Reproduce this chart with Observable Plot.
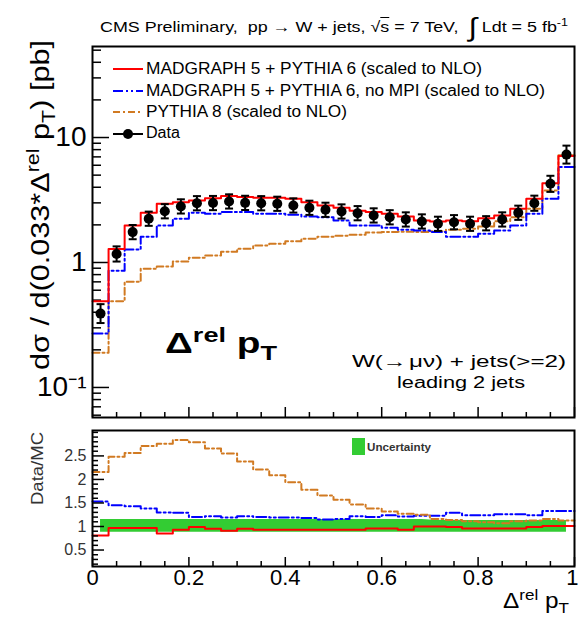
<!DOCTYPE html>
<html>
<head>
<meta charset="utf-8">
<script src="https://cdn.jsdelivr.net/npm/d3@7"></script>
<script src="https://cdn.jsdelivr.net/npm/@observablehq/plot@0.6"></script>
<style>
  body { margin: 0; background: #fff; }
  #wrap { position: relative; width: 578px; height: 621px; overflow: hidden;
          font-family: "Liberation Sans", Arial, Helvetica, sans-serif; color: #000; }
  #wrap > svg { position: absolute; left: 0; }
  .t { position: absolute; white-space: nowrap; transform-origin: 0 50%; }
  .t sup, .t sub { font-size: 70%; line-height: 0; }
</style>
</head>
<body>
<div id="wrap"></div>
<script>
// Binning: 30 bins of width 0.0333 in Δrel pT
const binCount = 30;
const binEdges = d3.range(binCount + 1).map(i => i / binCount);

// Measured cross section per bin [pb]
const dataXsec = [0.39, 1.17, 1.75, 2.24, 2.57, 2.81, 2.98, 2.99, 3.08, 3.00,
                  2.98, 2.95, 2.86, 2.74, 2.64, 2.56, 2.48, 2.38, 2.30, 2.21,
                  2.13, 2.04, 2.10, 2.04, 2.06, 2.21, 2.50, 2.98, 4.26, 7.30];
// Relative size of the data error bars
const dataErr = [0.19, 0.15, 0.14, 0.14, 0.14, 0.14, 0.14, 0.14, 0.14, 0.14,
                 0.14, 0.14, 0.14, 0.14, 0.14, 0.14, 0.14, 0.14, 0.14, 0.14,
                 0.14, 0.14, 0.14, 0.14, 0.14, 0.14, 0.14, 0.15, 0.16, 0.18];
// MADGRAPH 5 + PYTHIA 6 (scaled to NLO)
const mgPythia6 = [0.49, 1.28, 1.98, 2.50, 2.95, 3.04, 3.13, 3.27, 3.40, 3.35,
                   3.30, 3.30, 3.23, 3.04, 2.86, 2.74, 2.60, 2.53, 2.45, 2.33,
                   2.17, 2.13, 2.17, 2.14, 2.26, 2.38, 2.69, 3.23, 4.31, 7.10];
// MADGRAPH 5 + PYTHIA 6, no MPI (scaled to NLO)
const mgNoMpi = [0.27, 0.86, 1.27, 1.61, 1.98, 2.24, 2.50, 2.45, 2.53, 2.53,
                 2.45, 2.45, 2.41, 2.33, 2.30, 2.17, 1.98, 1.98, 1.90, 1.83,
                 1.80, 1.75, 1.61, 1.61, 1.70, 1.80, 1.98, 2.45, 3.23, 5.80];
// PYTHIA 8 (scaled to NLO)
const pythia8 = [0.19, 0.49, 0.70, 0.89, 0.93, 1.02, 1.09, 1.14, 1.22, 1.29,
                 1.37, 1.41, 1.48, 1.55, 1.61, 1.64, 1.67, 1.74, 1.75, 1.76,
                 1.75, 1.78, 1.83, 1.86, 1.94, 2.14, 2.30, 2.69, 3.77, 7.20];

// Data/MC ratios
const ratioMgPythia6 = [0.81, 0.97, 0.97, 0.97, 0.85, 0.93, 0.99, 0.95, 0.91, 0.95,
                        0.93, 0.93, 0.93, 0.93, 0.93, 0.93, 0.93, 0.96, 0.96, 0.93,
                        1.00, 1.00, 0.99, 0.96, 0.96, 0.96, 0.96, 0.99, 1.01, 1.01];
const ratioMgNoMpi = [1.53, 1.45, 1.43, 1.38, 1.30, 1.29, 1.20, 1.22, 1.19, 1.22,
                      1.20, 1.19, 1.19, 1.18, 1.15, 1.16, 1.22, 1.20, 1.24, 1.21,
                      1.23, 1.23, 1.29, 1.24, 1.24, 1.26, 1.26, 1.24, 1.33, 1.33];
const ratioPythia8 = [2.16, 2.48, 2.56, 2.71, 2.76, 2.84, 2.79, 2.66, 2.55, 2.38,
                      2.21, 2.09, 1.94, 1.78, 1.66, 1.57, 1.47, 1.38, 1.32, 1.27,
                      1.25, 1.16, 1.14, 1.11, 1.09, 1.07, 1.11, 1.13, 1.16, 1.13];
// Uncertainty band around 1
const bandLow  = [0.88, 0.88, 0.88, 0.88, 0.88, 0.88, 0.88, 0.88, 0.88, 0.88,
                  0.88, 0.88, 0.88, 0.88, 0.88, 0.88, 0.88, 0.88, 0.88, 0.88,
                  0.88, 0.88, 0.88, 0.88, 0.88, 0.88, 0.88, 0.88, 0.88, 0.88];
const bandHigh = [1.15, 1.15, 1.15, 1.15, 1.15, 1.15, 1.15, 1.15, 1.15, 1.15,
                  1.15, 1.15, 1.15, 1.15, 1.15, 1.15, 1.15, 1.15, 1.15, 1.15,
                  1.15, 1.13, 1.13, 1.13, 1.13, 1.13, 1.13, 1.13, 1.13, 1.13];

// Axis ticks
const logMajor = [0.1, 1, 10];
const logMinor = [0.06, 0.07, 0.08, 0.09, 0.2, 0.3, 0.4, 0.5, 0.6, 0.7, 0.8, 0.9,
                  2, 3, 4, 5, 6, 7, 8, 9, 20, 30, 40, 50];
const xMajor = [0, 0.2, 0.4, 0.6, 0.8, 1];
const xMinor = [0.05, 0.1, 0.15, 0.25, 0.3, 0.35, 0.45, 0.5, 0.55, 0.65, 0.7, 0.75, 0.85, 0.9, 0.95];
const ratioMajor = [0.5, 1, 1.5, 2, 2.5];
const ratioMinor = [0.2, 0.3, 0.4, 0.6, 0.7, 0.8, 0.9, 1.1, 1.2, 1.3, 1.4, 1.6, 1.7, 1.8, 1.9,
                    2.1, 2.2, 2.3, 2.4, 2.6, 2.7, 2.8, 2.9, 3.0];

const RED = "#ff0000", BLUE = "#0000ff", ORANGE = "#d17a22", GREEN = "#33cc33";
const DASH_BLUE = "10,3,2,3,2,3";
const DASH_ORANGE = "7,3,2,3";

const W = 578;
const mLeft = 92, mRight = 4;
const plotW = W - mLeft - mRight;

function steps(values) {
  return values.flatMap((v, i) => [{x: binEdges[i], y: v}, {x: binEdges[i + 1], y: v}]);
}
const centers = dataXsec.map((_, i) => (binEdges[i] + binEdges[i + 1]) / 2);
const points = dataXsec.map((v, i) => ({x: centers[i], y: v, lo: v / (1 + dataErr[i]), hi: v * (1 + dataErr[i])}));
const band = bandLow.map((lo, i) => ({x: centers[i], lo, hi: bandHigh[i]}));

// Horizontal cap at the ends of the error bars
const capSymbol = {draw(context) { context.moveTo(-4, 0); context.lineTo(4, 0); }};

const font = "Liberation Sans, Arial, Helvetica, sans-serif";

// ---- Upper panel: cross section, log scale
const topH = 420, topMT = 46, topMB = 3;
const topPlotH = topH - topMT - topMB;
const upper = Plot.plot({
  width: W, height: topH,
  marginLeft: mLeft, marginRight: mRight, marginTop: topMT, marginBottom: topMB,
  style: {fontFamily: font, background: "transparent", overflow: "visible"},
  x: {domain: [0, 1], axis: null},
  y: {type: "log", domain: [0.0575, 53.5], axis: null},
  marks: [
    Plot.tickY(logMajor, {insetRight: plotW - 17, strokeWidth: 1.5}),
    Plot.tickY(logMinor, {insetRight: plotW - 9, strokeWidth: 1.5}),
    Plot.tickX(xMajor, {insetTop: topPlotH - 10, strokeWidth: 1.5}),
    Plot.tickX(xMinor, {insetTop: topPlotH - 5, strokeWidth: 1.5}),
    Plot.axisY({ticks: logMajor, tickSize: 0, tickPadding: 6, fontSize: 28, label: null,
                tickFormat: d => d === 0.1 ? "10⁻¹" : String(d)}),
    Plot.line(steps(pythia8), {x: "x", y: "y", stroke: ORANGE, strokeWidth: 2, strokeDasharray: DASH_ORANGE}),
    Plot.line(steps(mgNoMpi), {x: "x", y: "y", stroke: BLUE, strokeWidth: 2, strokeDasharray: DASH_BLUE}),
    Plot.line(steps(mgPythia6), {x: "x", y: "y", stroke: RED, strokeWidth: 2}),
    Plot.ruleX(points, {x: "x", y1: "lo", y2: "hi", stroke: "black", strokeWidth: 2}),
    Plot.dot(points, {x: "x", y: "lo", symbol: capSymbol, stroke: "black", strokeWidth: 2}),
    Plot.dot(points, {x: "x", y: "hi", symbol: capSymbol, stroke: "black", strokeWidth: 2}),
    Plot.dot(points, {x: "x", y: "y", r: 5, fill: "black"}),
    Plot.frame({stroke: "black", strokeWidth: 2})
  ]
});
upper.style.top = "0px";

// ---- Lower panel: Data/MC
const botH = 201, botMT = 10, botMB = 55;
const botPlotH = botH - botMT - botMB;
const lower = Plot.plot({
  width: W, height: botH,
  marginLeft: mLeft, marginRight: mRight, marginTop: botMT, marginBottom: botMB,
  style: {fontFamily: font, background: "transparent", overflow: "visible"},
  x: {domain: [0, 1], axis: null},
  y: {domain: [0.15, 3.04], axis: null},
  marks: [
    Plot.areaY(band, {x: "x", y1: "lo", y2: "hi", fill: GREEN}),
    Plot.line(steps(ratioMgPythia6), {x: "x", y: "y", stroke: RED, strokeWidth: 2}),
    Plot.line(steps(ratioMgNoMpi), {x: "x", y: "y", stroke: BLUE, strokeWidth: 2, strokeDasharray: DASH_BLUE}),
    Plot.line(steps(ratioPythia8), {x: "x", y: "y", stroke: ORANGE, strokeWidth: 2, strokeDasharray: DASH_ORANGE}),
    Plot.tickY(ratioMajor, {insetRight: plotW - 12, strokeWidth: 1.5}),
    Plot.tickY(ratioMinor, {insetRight: plotW - 6, strokeWidth: 1.5}),
    Plot.tickX(xMajor, {insetTop: botPlotH - 9, strokeWidth: 1.5}),
    Plot.tickX(xMinor, {insetTop: botPlotH - 5, strokeWidth: 1.5}),
    Plot.axisY({ticks: ratioMajor, tickSize: 0, tickPadding: 6, fontSize: 16, fill: "#333", label: null,
                tickFormat: d => String(d)}),
    Plot.axisX({ticks: xMajor.slice(0, -1), tickSize: 0, tickPadding: 3, fontSize: 22, label: null,
                tickFormat: d => String(d)}),
    Plot.axisX({ticks: xMajor.slice(-1), tickSize: 0, tickPadding: 3, fontSize: 22, label: null,
                textAnchor: "end", dx: 4, tickFormat: d => String(d)}),
    Plot.frame({stroke: "black", strokeWidth: 2})
  ]
});
lower.style.top = "420px";

const wrap = document.getElementById("wrap");
wrap.append(upper, lower);

// ---- Text annotations and legends
const lineSample = (color, dash) =>
  `<svg width="30" height="10" style="vertical-align:middle"><line x1="0" y1="5" x2="30" y2="5" stroke="${color}" stroke-width="2"${dash ? ` stroke-dasharray="${dash}"` : ""}/></svg>`;
const dataSample =
  `<svg width="30" height="12" style="vertical-align:middle"><line x1="0" y1="6" x2="30" y2="6" stroke="black" stroke-width="2"/><circle cx="15" cy="6" r="5" fill="black"/></svg>`;

const texts = [
  {x: 100, cy: 26, size: 15, w: 468,
   html: `CMS Preliminary,&nbsp; pp → W + jets, √<span style="text-decoration:overline">s</span> = 7 TeV,&nbsp; <span style="font-size:26px;vertical-align:-4px">∫</span> Ldt = 5 fb<sup>-1</sup>`},
  {x: 146, cy: 69, size: 16, w: 336, html: "MADGRAPH 5 + PYTHIA 6 (scaled to NLO)"},
  {x: 146, cy: 91, size: 16, w: 399, html: "MADGRAPH 5 + PYTHIA 6, no MPI (scaled to NLO)"},
  {x: 146, cy: 112, size: 16, w: 201, html: "PYTHIA 8 (scaled to NLO)"},
  {x: 146, cy: 133, size: 16, w: 34, html: "Data"},
  {x: 113, cy: 69, size: 10, html: lineSample(RED)},
  {x: 113, cy: 91, size: 10, html: lineSample(BLUE, DASH_BLUE)},
  {x: 113, cy: 112, size: 10, html: lineSample(ORANGE, DASH_ORANGE)},
  {x: 113, cy: 133, size: 12, html: dataSample},
  {x: 352, cy: 362, size: 16, w: 214, html: "W(→&#8202;μν) + jets(&gt;=2)"},
  {x: 397, cy: 383, size: 16, w: 128, html: "leading 2 jets"},
  {x: 165, cy: 343, size: 30, w: 112, bold: true, html: "Δ<sup>rel</sup> p<sub>T</sub>"},
  {x: 367, cy: 447, size: 11, w: 64, bold: true, color: "#333", html: "Uncertainty"},
  {x: 503, cy: 601, size: 22, w: 66, html: "Δ<sup>rel</sup> p<sub>T</sub>"}
];
for (const t of texts) {
  const el = document.createElement("div");
  el.className = "t";
  el.style.left = t.x + "px";
  el.style.top = (t.cy - t.size / 2) + "px";
  el.style.fontSize = t.size + "px";
  el.style.lineHeight = t.size + "px";
  if (t.bold) el.style.fontWeight = "bold";
  if (t.color) el.style.color = t.color;
  el.innerHTML = t.html;
  wrap.append(el);
  if (t.w) el.style.transform = `scaleX(${t.w / el.getBoundingClientRect().width})`;
}

// Uncertainty swatch
const sw = document.createElement("div");
sw.style.cssText = `position:absolute;left:352px;top:438px;width:13px;height:17px;background:${GREEN}`;
wrap.append(sw);

// Rotated axis titles
function rotated(html, cx, cy, size, len, color) {
  const el = document.createElement("div");
  el.className = "t";
  el.style.fontSize = size + "px";
  el.style.lineHeight = size + "px";
  if (color) el.style.color = color;
  el.innerHTML = html;
  wrap.append(el);
  const r = el.getBoundingClientRect();
  const s = len ? len / r.width : 1;
  el.style.left = (cx - r.width / 2) + "px";
  el.style.top = (cy - size / 2) + "px";
  el.style.transformOrigin = "50% 50%";
  el.style.transform = `rotate(-90deg) scaleX(${s})`;
}
rotated("dσ / d(0.033*Δ<sup>rel</sup> p<sub>T</sub>) [pb]", 40, 205, 26, 330);
rotated("Data/MC", 38, 468, 17, 73, "#333");
</script>
</body>
</html>
